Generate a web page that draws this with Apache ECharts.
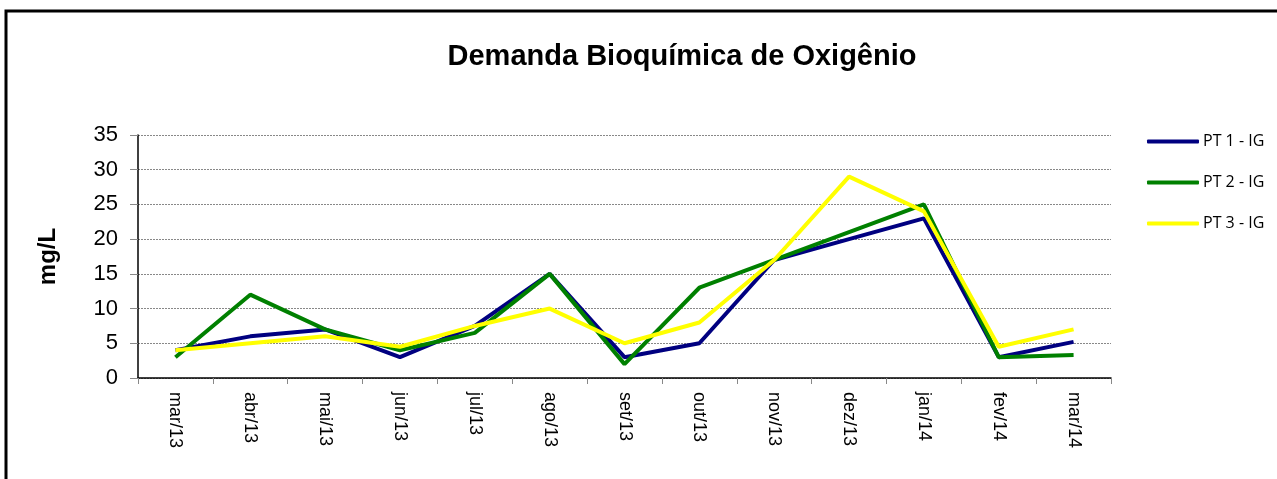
<!DOCTYPE html>
<html>
<head>
<meta charset="utf-8">
<script src="https://cdn.jsdelivr.net/npm/echarts@6/dist/echarts.min.js"></script>
<style>
  html, body { margin: 0; padding: 0; background: #fff; }
  #chart { width: 1277px; height: 479px; }
</style>
</head>
<body>
<div id="chart"></div>
<script>
// meses da amostragem
var categories = ['mar/13', 'abr/13', 'mai/13', 'jun/13', 'jul/13', 'ago/13', 'set/13',
  'out/13', 'nov/13', 'dez/13', 'jan/14', 'fev/14', 'mar/14'];
var pt1 = [4, 6, 7, 3, 7.5, 15, 3, 5, 17, 20, 23, 3, 5.2];
var pt2 = [3, 12, 7, 4, 6.5, 15, 2, 13, 17, 21, 25, 3, 3.3];
var pt3 = [4, 5, 6, 4.5, 7.5, 10, 5, 8, 17, 29, 24, 4.5, 7];
var seriesNames = ['PT 1 - IG', 'PT 2 - IG', 'PT 3 - IG'];
var yTicks = { min: 0, max: 35, interval: 5 };

var chart = echarts.init(document.getElementById('chart'));

function lineSerie (name, data, color) {
  return {
    name: name,
    type: 'line',
    data: data,
    symbol: 'none',
    smooth: false,
    lineStyle: { color: color, width: 4 },
    itemStyle: { color: color }
  };
}

var option = {
  animation: false,
  backgroundColor: '#fff',
  graphic: [{
    type: 'rect',
    shape: { x: 6, y: 11, width: 1400, height: 600 },
    style: { fill: 'none', stroke: '#000', lineWidth: 3 },
    silent: true
  }],
  title: {
    text: 'Demanda Bioquímica de Oxigênio',
    left: 677,
    top: 37,
    textAlign: 'center',
    textStyle: {
      fontFamily: 'Liberation Sans',
      fontWeight: 'bold',
      fontSize: 29,
      color: '#000'
    }
  },
  legend: {
    data: seriesNames,
    orient: 'vertical',
    left: 1147,
    top: 132,
    padding: 0,
    itemWidth: 52,
    itemHeight: 4,
    itemGap: 22,
    icon: 'roundRect',
    textStyle: {
      fontFamily: 'Open Sans',
      fontSize: 16,
      lineHeight: 19,
      color: '#000',
      padding: [0, 0, 0, -1]
    }
  },
  grid: {
    left: 138,
    right: 166,
    top: 135,
    bottom: 101,
    containLabel: false
  },
  xAxis: {
    type: 'category',
    data: categories,
    boundaryGap: true,
    axisLine: { lineStyle: { color: '#000', width: 1.5 } },
    axisTick: { show: true, interval: 0, length: 6, lineStyle: { color: '#888' } },
    axisLabel: {
      interval: 0,
      rotate: -90,
      margin: 14,
      fontFamily: 'Liberation Sans',
      fontSize: 18,
      color: '#000'
    },
    splitLine: { show: false }
  },
  yAxis: {
    type: 'value',
    min: yTicks.min,
    max: yTicks.max,
    interval: yTicks.interval,
    name: 'mg/L',
    nameLocation: 'middle',
    nameGap: 78,
    nameTextStyle: {
      fontFamily: 'Liberation Sans',
      fontWeight: 'bold',
      fontSize: 24,
      color: '#000'
    },
    axisLine: { show: true, lineStyle: { color: '#000', width: 1.5 } },
    axisTick: { show: true, length: 8, lineStyle: { color: '#888' } },
    axisLabel: {
      margin: 20,
      fontFamily: 'Liberation Sans',
      fontSize: 22,
      color: '#000'
    },
    splitLine: {
      show: true,
      lineStyle: { color: '#888', type: [2, 1], width: 1 }
    }
  },
  series: [
    lineSerie(seriesNames[0], pt1, '#000080'),
    lineSerie(seriesNames[1], pt2, '#008000'),
    lineSerie(seriesNames[2], pt3, '#FFFF00')
  ]
};

chart.setOption(option);
</script>
</body>
</html>
